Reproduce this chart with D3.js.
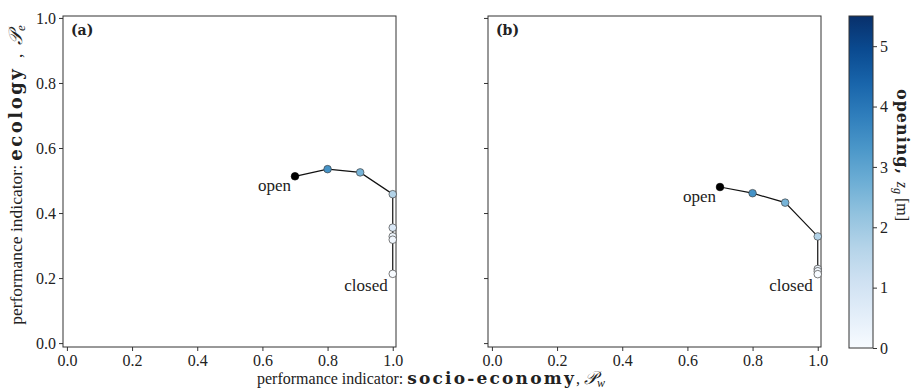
<!DOCTYPE html>
<html>
<head>
<meta charset="utf-8">
<script src="https://cdn.jsdelivr.net/npm/d3@7"></script>
<style>
  body { margin: 0; background: #fff; }
  text { font-family: "Liberation Serif", "DejaVu Serif", serif; fill: #222; }
  .bf { font-family: "DejaVu Serif", serif; font-weight: bold; }
</style>
</head>
<body>
<div id="chart"></div>
<script>
// panel (a)
const socioA = [0.7, 0.8, 0.9, 1.0, 1.0, 1.0, 1.0, 1.0]
const ecoA = [0.513, 0.535, 0.525, 0.458, 0.355, 0.328, 0.318, 0.213]
const openingA = [5.5, 3.4, 2.6, 1.7, 0.8, 0.3, 0.2, 0.0]
// panel (b)
const socioB = [0.7, 0.8, 0.9, 1.0, 1.0, 1.0, 1.0]
const ecoB = [0.48, 0.461, 0.432, 0.328, 0.228, 0.221, 0.212]
const openingB = [5.5, 3.4, 2.6, 1.7, 0.3, 0.2, 0.0]

const ticks = [0.0, 0.2, 0.4, 0.6, 0.8, 1.0]
const cbTicks = [0, 1, 2, 3, 4, 5]
const panelLabels = ["(a)", "(b)"]

const W = 911, H = 390
const plotTop = 16, plotBottom = 347
const panels = [
  {left: 63, right: 396, label: panelLabels[0], x: socioA, y: ecoA, z: openingA, showY: true},
  {left: 488, right: 821, label: panelLabels[1], x: socioB, y: ecoB, z: openingB, showY: false}
]
var color = d3.scaleSequential(d3.interpolateBlues).domain([0, 5.5])
var axisColor = "#333"

var svg = d3.select("#chart").append("svg").attr("width", W).attr("height", H)

panels.forEach(function (p) {
  var x = d3.scaleLinear().domain([-0.012, 1.01]).range([p.left, p.right])
  var y = d3.scaleLinear().domain([-0.012, 1.006]).range([plotBottom, plotTop])
  var g = svg.append("g")

  // axes
  var xAxis = g.append("g").attr("transform", "translate(0," + plotBottom + ")")
    .call(d3.axisBottom(x).tickValues(ticks).tickFormat(d3.format(".1f")).tickSize(4).tickPadding(4))
  var yAxis = g.append("g").attr("transform", "translate(" + p.left + ",0)")
    .call(d3.axisLeft(y).tickValues(ticks).tickFormat(p.showY ? d3.format(".1f") : "").tickSize(4).tickPadding(3))
  ;[xAxis, yAxis].forEach(a => {
    a.select(".domain").remove()
    a.selectAll("line").attr("stroke", axisColor)
    a.selectAll("text").style("font-size", "16px").attr("fill", "#222")
  })

  // frame
  g.append("rect").attr("x", p.left).attr("y", plotTop).attr("width", p.right - p.left).attr("height", plotBottom - plotTop)
    .attr("fill", "none").attr("stroke", axisColor).attr("stroke-width", 1)

  g.append("text").attr("x", p.left + 8).attr("y", plotTop + 19).text(p.label)
    .attr("class", "bf").style("font-size", "14px")

  var pts = p.x.map((d, i) => ({x: d, y: p.y[i], z: p.z[i]}))
  var line = d3.line().x(d => x(d.x)).y(d => y(d.y))
  g.append("path").datum(pts).attr("d", line).attr("fill", "none").attr("stroke", "#111").attr("stroke-width", 1.2)

  g.selectAll("circle").data(pts).enter().append("circle")
    .attr("cx", d => x(d.x)).attr("cy", d => y(d.y)).attr("r", 3.8)
    .attr("fill", (d, i) => i == 0 ? "#000" : color(d.z))
    .attr("stroke", (d, i) => i == 0 ? "#000" : "#444").attr("stroke-width", 0.7)

  // annotations
  var first = pts[0], last = pts[pts.length - 1]
  g.append("text").attr("x", x(first.x) - 4).attr("y", y(first.y) + 15).attr("text-anchor", "end")
    .text("open").style("font-size", "17px")
  g.append("text").attr("x", x(last.x) - 5).attr("y", y(last.y) + 17).attr("text-anchor", "end")
    .text("closed").style("font-size", "17px")
})

// axis titles
svg.append("text").attr("transform", "translate(22,175) rotate(-90)").attr("text-anchor", "middle")
  .style("font-size", "17.5px")
  .call(t => {
    t.append("tspan").text("performance indicator: ")
    t.append("tspan").text("ecology").attr("class", "bf").style("font-size", "18px").style("letter-spacing", "2.5px")
    t.append("tspan").text("  ,  ").style("white-space", "pre")
    t.append("tspan").text("𝒫").style("font-style", "italic").style("font-size", "19px")
    t.append("tspan").text("e").style("font-style", "italic").style("font-size", "13px").attr("dy", 3)
  })

svg.append("text").attr("x", 431).attr("y", 384).attr("text-anchor", "middle")
  .style("font-size", "16px")
  .call(t => {
    t.append("tspan").text("performance indicator: ")
    t.append("tspan").text("socio-economy").attr("class", "bf").style("font-size", "17px").style("letter-spacing", "2.2px")
    t.append("tspan").text(", ")
    t.append("tspan").text("𝒫").style("font-style", "italic").style("font-size", "18px")
    t.append("tspan").text("w").style("font-style", "italic").style("font-size", "12px").attr("dy", 3)
  })

// colorbar
var cbLeft = 849, cbRight = 873, cbTop = 16, cbBottom = 348
var cbScale = d3.scaleLinear().domain([0, 5.5]).range([cbBottom, cbTop])
var defs = svg.append("defs")
var grad = defs.append("linearGradient").attr("id", "cbgrad").attr("x1", 0).attr("y1", 1).attr("x2", 0).attr("y2", 0)
d3.range(0, 1.0001, 0.1).forEach(t => {
  grad.append("stop").attr("offset", t).attr("stop-color", color(t * 5.5))
})
svg.append("rect").attr("x", cbLeft).attr("y", cbTop).attr("width", cbRight - cbLeft).attr("height", cbBottom - cbTop)
  .attr("fill", "url(#cbgrad)").attr("stroke", axisColor).attr("stroke-width", 1)
var cbAxis = svg.append("g").attr("transform", "translate(" + cbRight + ",0)")
  .call(d3.axisRight(cbScale).tickValues(cbTicks).tickFormat(d3.format("d")).tickSize(4).tickPadding(3))
cbAxis.select(".domain").remove()
cbAxis.selectAll("line").attr("stroke", axisColor)
cbAxis.selectAll("text").style("font-size", "16px").attr("fill", "#222")

svg.append("text").attr("transform", "translate(897,155) rotate(90)").attr("text-anchor", "middle")
  .style("font-size", "16px")
  .call(t => {
    t.append("tspan").text("opening, ").attr("class", "bf").style("letter-spacing", "1px")
    t.append("tspan").text("z").style("font-style", "italic")
    t.append("tspan").text("g").style("font-style", "italic").style("font-size", "12px").attr("dy", 3)
    t.append("tspan").text(" [m]").attr("dy", -3)
  })
</script>
</body>
</html>
